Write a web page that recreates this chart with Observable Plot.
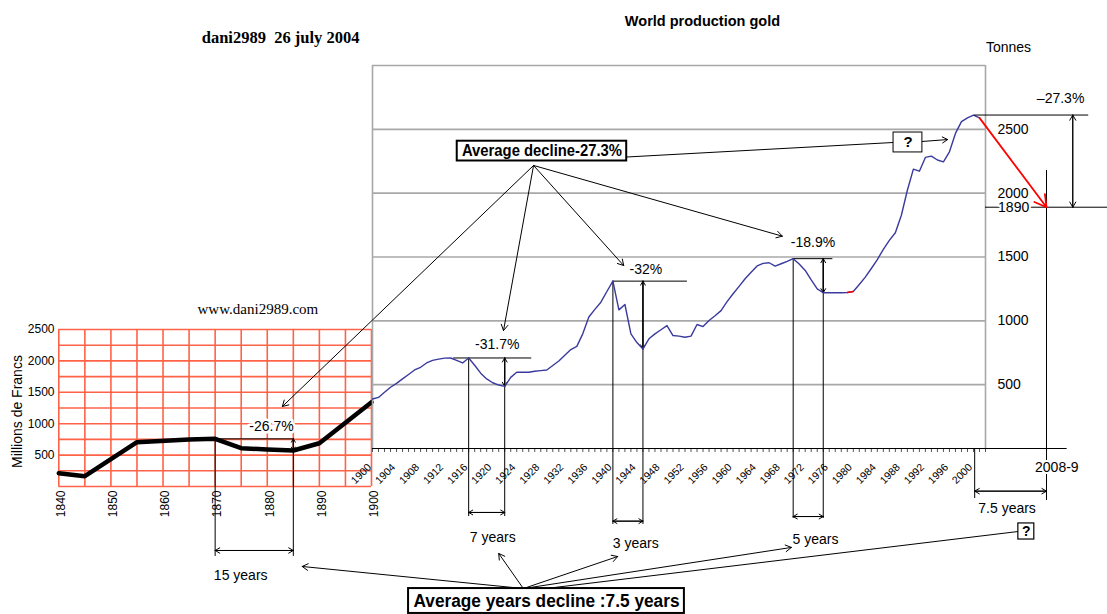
<!DOCTYPE html>
<html><head><meta charset="utf-8">
<script src="https://cdn.jsdelivr.net/npm/d3@7"></script>
<script src="https://cdn.jsdelivr.net/npm/@observablehq/plot@0.6"></script>
<style>
html,body{margin:0;padding:0;background:#fff;}
#wrap{position:relative;width:1107px;height:614px;overflow:hidden;background:#fff;}
#wrap svg{position:absolute;left:0;top:0;}
</style></head><body><div id="wrap"></div>
<script>
// ---------- main series: world gold production (tonnes) ----------
const goldYears = d3.range(1900, 2002);
const goldTonnes = [388,400,440,480,510,545,580,615,636,670, 690,700,708,709,690,670,709,652,590,545,
  515,497,487,557,597,597,597,605,610,615, 650,685,730,775,800,900,1030,1090,1146,1230,
  1311,1086,1128,898,830,780,859,898,930,963, 885,880,871,880,971,955,1002,1040,1080,1150,
  1212,1270,1330,1380,1430,1450,1455,1429,1447,1466, 1487,1445,1395,1320,1250,1220,1220,1220,1220,1222,
  1230,1285,1342,1410,1480,1560,1630,1690,1827,2023, 2188,2172,2280,2290,2260,2245,2324,2468,2560,2590,
  2612,2590];
const redYears = [1979, 1980];

// ---------- inset series: millions de francs ----------
const insetYears = [1840,1845,1855,1865,1870,1875,1880,1885,1890,1900];
const insetFrancs = [212,164,705,748,759,610,589,573,689,1342];

// ---------- ticks ----------
const mainTickYears = d3.range(1900, 2003);
const mainLabelYears = d3.range(1900, 2001, 4);
const mainGridValues = [500,1000,1500,2000,2500,3000];
const mainYTicks = [500,1000,1500,2000,2500];
const insetGridYears = d3.range(1840, 1901, 5);
const insetGridValues = d3.range(0, 2501, 250);
const insetLabelYears = [1840,1850,1860,1870,1880,1890,1900];
const insetYTicks = [500,1000,1500,2000,2500];

// ---------- annotations (data coordinates) ----------
const declines = [
  {peak:1916, trough:1922, lineTo:1926.5, lineFrom:1913.5, label:"-31.7%", lx:1920.75, ly:815, bottom:-533, arrowY:-501, span:"7 years", sx:1920.0, sy:-697},
  {peak:1940, trough:1945, lineTo:1952.4, lineFrom:1940, label:"-32%", lx:1945.5, ly:1402, bottom:-595, arrowY:-569, span:"3 years", sx:1943.8, sy:-744},
  {peak:1970, trough:1975, lineTo:1976.6, lineFrom:1970, label:"-18.9%", lx:1973.3, ly:1610, bottom:-548, arrowY:-533, span:"5 years", sx:1973.7, sy:-713}
];
const forecast = {fromYear:2001, fromValue:2590, year:2008.5, value:1890, yearLabel:"2008-9",
  peakFrom:2000.2, peakTo:2013, levelTo:2015, arrowX:2011.3, label:"\u201327.3%", lx:2010.0, ly:2738,
  lineTop:2178, lineBottom:-407, levelLabelX:2005.0, yearLabelX:2009.6, yearLabelY:-149,
  spanFrom:2000.2, spanBottom:-392, spanArrowY:-334, span:"7.5 years", sx:2004.3, sy:-470};
const declineBox = {x1:1914.1, x2:1942.3, y1:2407, y2:2252, x:1928.2, y:2330, text:"Average decline-27.3%"};
const declineArrows = [
  {x1:1926.8, y1:2217, x2:1885.0, y2:329},
  {x1:1926.8, y1:2217, x2:1921.8, y2:924},
  {x1:1926.8, y1:2217, x2:1941.8, y2:1433},
  {x1:1926.8, y1:2217, x2:1968.2, y2:1663}
];
const topQuestion = {x1:1986.7, x2:1991.5, y1:2475, y2:2319, x:1989.1, y:2397, lineFrom:[1937.9,2272], arrow:[1991.5,2405,1995.7,2420]};
const yearsBox = {x1:1906.0, x2:1951.9, y1:-1097, y2:-1292, x:1928.95, y:-1198, text:"Average years decline :7.5 years"};
const yearsArrows = [
  {x1:1925.1, y1:-1097, x2:1888.3, y2:-924},
  {x1:1925.1, y1:-1097, x2:1921.0, y2:-822},
  {x1:1925.1, y1:-1097, x2:1940.8, y2:-846},
  {x1:1925.1, y1:-1097, x2:1969.7, y2:-775}
];
const bottomQuestion = {x1:2005.5, x2:2007.2, y1:-587, y2:-713, x:2006.35, y:-650, lineFrom:[1928.8,-1097]};
const titles = [
  {x:1954.9, y:3345, text:"World production gold"},
];
const authorLine = {x:1884.7, y:3219, text:"dani2989\u00a0\u00a026 july 2004"};
const unitLabel = {x:2004.45, y:3141, text:"Tonnes"};

// inset annotations (inset coordinates)
const insetDecline = {peak:1870, trough:1885, label:"-26.7%", lx:1880.8, ly:955, bottom:-1114, arrowY:-1019, span:"15 years", sx:1874.9, sy:-1417};
const siteLabel = {x:1878.2, y:2818, text:"www.dani2989.com"};
const insetYLabel = {x:1832.1, y:1194, text:"Millions de Francs"};

// ---------- helpers ----------
const gold = goldYears.map((year, i) => ({year, tonnes: goldTonnes[i]}));
const tonnesAt = yr => goldTonnes[goldYears.indexOf(yr)];
const francsAt = yr => insetFrancs[insetYears.indexOf(yr)];
const insetData = insetYears.map((year, i) => ({year, francs: insetFrancs[i]}));
const A = {x1:"x1", y1:"y1", x2:"x2", y2:"y2"};
function arrow(x1,y1,x2,y2,o={}) {
  return Plot.arrow([{x1,y1,x2,y2}], {...A, stroke:"black", strokeWidth:1, headLength:8, ...o});
}
function dbl(x1,y1,x2,y2,o={}) { return [arrow(x1,y1,x2,y2,o), arrow(x2,y2,x1,y1,o)]; }
function seg(x1,y1,x2,y2,o={}) {
  return Plot.link([{x1,y1,x2,y2}], {...A, stroke:"black", strokeWidth:1, ...o});
}
const sans = "'Liberation Sans', Arial, sans-serif";
const serif = "'Liberation Serif', 'Times New Roman', serif";
const GRID = "#a8a8a8";
const plain = d => String(d);

// ---------- inset plot ----------
const inset = Plot.plot({
  width: 1107, height: 614,
  marginLeft: 58, marginRight: 736, marginTop: 329, marginBottom: 128,
  x: {type:"linear", domain:[1840,1900], range:[58.3,371], axis:null},
  y: {type:"linear", domain:[0,2500], range:[486,329], axis:null},
  style: {background:"transparent", overflow:"visible", fontFamily:sans, fontSize:"12px"},
  marks: [
    Plot.ruleY(insetGridValues, {x1:1840, x2:1900, stroke:"#ff6347", strokeWidth:1.6}),
    Plot.ruleX(insetGridYears, {y1:0, y2:2500, stroke:"#ff6347", strokeWidth:1.6}),
    Plot.axisY({anchor:"left", ticks:insetYTicks, tickFormat:plain, tickSize:0, tickPadding:4, label:null, fontSize:12}),
    Plot.text(insetLabelYears, {x:d=>d, y:0, text:plain, rotate:-90, textAnchor:"end", dx:2.5, dy:4, fontSize:12}),
    Plot.text([insetYLabel], {x:"x", y:"y", text:"text", rotate:-90, fontSize:14}),
    Plot.text([siteLabel], {x:"x", y:"y", text:"text", fontFamily:serif, fontSize:15}),
    // -26.7% decline
    Plot.ruleX([insetDecline.peak, insetDecline.trough], {y1:francsAt(insetDecline.peak), y2:insetDecline.bottom, stroke:"black", strokeWidth:1}),
    Plot.line(insetData, {x:"year", y:"francs", stroke:"black", strokeWidth:4.5, strokeLinejoin:"round"}),
    Plot.ruleY([francsAt(insetDecline.peak)], {x1:insetDecline.peak, x2:insetDecline.trough, stroke:"black", strokeWidth:1}),
    ...dbl(insetDecline.trough, francsAt(insetDecline.peak), insetDecline.trough, francsAt(insetDecline.trough), {headLength:6}),
    ...dbl(insetDecline.peak, insetDecline.arrowY, insetDecline.trough, insetDecline.arrowY),
    Plot.text([insetDecline], {x:"lx", y:"ly", text:"label", fontSize:14, stroke:"white", strokeWidth:5, fill:"black"}),
    Plot.text([insetDecline], {x:"sx", y:"sy", text:"span", fontSize:14})
  ]
});

// ---------- main plot ----------
const main = Plot.plot({
  width: 1107, height: 614,
  marginLeft: 372, marginRight: 122, marginTop: 65, marginBottom: 166,
  x: {type:"linear", domain:[1900,2002,2008.5], range:[372,985,1046], axis:null},
  y: {type:"linear", domain:[0,3000], range:[448,65], axis:null},
  style: {background:"transparent", overflow:"visible", fontFamily:sans, fontSize:"14px"},
  marks: [
    Plot.ruleY(mainGridValues, {x1:1900, x2:2002, stroke:GRID, strokeWidth:1.6}),
    Plot.ruleX([1900, 2002], {y1:0, y2:3000, stroke:GRID, strokeWidth:1.6}),
    Plot.axisX({ticks:mainTickYears, tickSize:4, tickFormat:()=>"", label:null, stroke:"#555"}),
    Plot.ruleY([0], {x1:1900, x2:2010.7, stroke:"black", strokeWidth:1}),
    Plot.text(mainLabelYears, {x:d=>d, y:0, text:plain, rotate:-45, textAnchor:"end", dx:-3, dy:17, fontSize:10.5}),
    Plot.axisY({anchor:"right", ticks:mainYTicks, tickFormat:plain, tickSize:0, tickPadding:12, label:null, fontSize:14}),
    // decline annotations
    ...declines.flatMap(d => [
      Plot.ruleX([d.peak], {y1:tonnesAt(d.peak), y2:d.bottom, stroke:"black", strokeWidth:1}),
      Plot.ruleX([d.trough], {y1:tonnesAt(d.peak), y2:d.bottom, stroke:"black", strokeWidth:1}),
      Plot.ruleY([tonnesAt(d.peak)], {x1:d.lineFrom, x2:d.lineTo, stroke:"black", strokeWidth:1}),
      ...dbl(d.trough, tonnesAt(d.peak), d.trough, tonnesAt(d.trough), {headLength:7}),
      ...dbl(d.peak, d.arrowY, d.trough, d.arrowY, {headLength:7}),
      Plot.text([d], {x:"lx", y:"ly", text:"label", fontSize:14}),
      Plot.text([d], {x:"sx", y:"sy", text:"span", fontSize:14})
    ]),
    // series
    Plot.line(gold, {x:"year", y:"tonnes", stroke:"#3a3a9e", strokeWidth:1.4}),
    Plot.line(gold.filter(d => redYears.includes(d.year)), {x:"year", y:"tonnes", stroke:"red", strokeWidth:1.4}),
    // forecast
    Plot.ruleY([tonnesAt(2000)], {x1:forecast.peakFrom, x2:forecast.peakTo, stroke:"black", strokeWidth:1}),
    Plot.ruleY([forecast.value], {x1:2002, x2:forecast.levelTo, stroke:"black", strokeWidth:1}),
    Plot.ruleX([forecast.year], {y1:forecast.lineTop, y2:forecast.lineBottom, stroke:"black", strokeWidth:1}),
    Plot.ruleX([forecast.spanFrom], {y1:0, y2:forecast.spanBottom, stroke:"black", strokeWidth:1}),
    ...dbl(forecast.arrowX, tonnesAt(2000), forecast.arrowX, forecast.value, {headLength:9}),
    ...dbl(forecast.spanFrom, forecast.spanArrowY, forecast.year, forecast.spanArrowY, {headLength:8}),
    arrow(forecast.fromYear, forecast.fromValue, forecast.year, forecast.value, {stroke:"red", strokeWidth:1.8, headLength:11}),
    Plot.text([forecast], {x:"levelLabelX", y:"value", text:d=>String(d.value), fontSize:14, stroke:"white", strokeWidth:4, fill:"black"}),
    Plot.text([forecast], {x:"yearLabelX", y:"yearLabelY", text:"yearLabel", fontSize:14, stroke:"white", strokeWidth:4, fill:"black"}),
    Plot.text([forecast], {x:"lx", y:"ly", text:"label", fontSize:14}),
    Plot.text([forecast], {x:"sx", y:"sy", text:"span", fontSize:14}),
    // titles
    Plot.text(titles, {x:"x", y:"y", text:"text", fontWeight:"bold", fontSize:14.5}),
    Plot.text([authorLine], {x:"x", y:"y", text:"text", fontFamily:serif, fontWeight:"bold", fontSize:16.5}),
    Plot.text([unitLabel], {x:"x", y:"y", text:"text", fontSize:14}),
    // average decline box & arrows
    ...declineArrows.map(d => arrow(d.x1, d.y1, d.x2, d.y2, {headLength:10})),
    seg(topQuestion.lineFrom[0], topQuestion.lineFrom[1], topQuestion.x1, topQuestion.y),
    Plot.rect([declineBox], {x1:"x1", x2:"x2", y1:"y1", y2:"y2", fill:"white", stroke:"black", strokeWidth:2}),
    Plot.text([declineBox], {x:"x", y:"y", text:"text", fontWeight:"bold", fontSize:17}),
    Plot.rect([topQuestion], {x1:"x1", x2:"x2", y1:"y1", y2:"y2", fill:"white", stroke:"black", strokeWidth:1}),
    Plot.text([topQuestion], {x:"x", y:"y", text:()=>"?", fontWeight:"bold", fontSize:15}),
    arrow(topQuestion.arrow[0], topQuestion.arrow[1], topQuestion.arrow[2], topQuestion.arrow[3], {headLength:9}),
    // average years box & arrows
    ...yearsArrows.map(d => arrow(d.x1, d.y1, d.x2, d.y2, {headLength:10})),
    seg(bottomQuestion.lineFrom[0], bottomQuestion.lineFrom[1], bottomQuestion.x1, bottomQuestion.y),
    Plot.rect([yearsBox], {x1:"x1", x2:"x2", y1:"y1", y2:"y2", fill:"white", stroke:"black", strokeWidth:2}),
    Plot.text([yearsBox], {x:"x", y:"y", text:"text", fontWeight:"bold", fontSize:18}),
    Plot.rect([bottomQuestion], {x1:"x1", x2:"x2", y1:"y1", y2:"y2", fill:"white", stroke:"black", strokeWidth:1.2}),
    Plot.text([bottomQuestion], {x:"x", y:"y", text:()=>"?", fontWeight:"bold", fontSize:14})
  ]
});

const wrap = document.getElementById("wrap");
wrap.append(inset, main);
// condense the boxed bold labels to the reference widths
d3.select(main).selectAll("text").each(function() {
  const t = this.textContent;
  if (t === declineBox.text) d3.select(this).attr("textLength", 160).attr("lengthAdjust", "spacingAndGlyphs");
  if (t === yearsBox.text) d3.select(this).attr("textLength", 266).attr("lengthAdjust", "spacingAndGlyphs");
});
</script></body></html>
